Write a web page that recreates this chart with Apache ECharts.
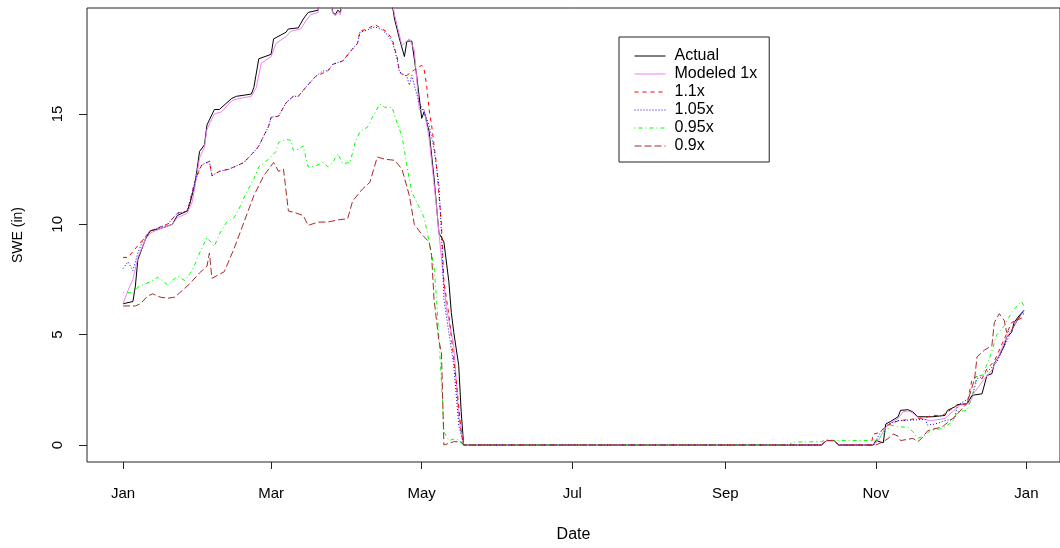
<!DOCTYPE html>
<html lang="en">
<head>
    <meta charset="UTF-8">
    <title>SWE</title>
    <script type="text/javascript" src="https://cdn.jsdelivr.net/npm/echarts@6/dist/echarts.min.js"></script>
    <style>
        body { margin: 0; background: #fff; }
    </style>
</head>
<body>
<div id="main" style="width: 1060px;height:548px;"></div>
<script type="text/javascript">
    // x = day of year (0 = Jan 1, leap year), y = SWE in inches
    var tickDays = [0, 60, 121, 182, 244, 305, 366];
    var tickLabels = ['Jan', 'Mar', 'May', 'Jul', 'Sep', 'Nov', 'Jan'];
    var yTicks = [0, 5, 10, 15];

    var actual = [[0,6.4],[4,6.5],[5,7.2],[6,8.4],[9,9.3],[11,9.7],[15,9.8],[20,10.0],[22,10.4],[26,10.6],[27,10.9],[29,11.75],[30,12.5],[31,13.3],[33,13.6],[34,14.5],[37,15.2],[39,15.2],[44,15.7],[46,15.8],[52,15.9],[53,16.2],[55,17.5],[60,17.7],[61,18.4],[66,18.7],[67,18.85],[71,18.9],[73,19.3],[75,19.6],[79,19.7],[80,20.2],[84,20.1],[85,19.6],[86,19.5],[87,19.7],[88,19.6],[89,20.1],[95,20.4],[100,20.6],[105,20.4],[109,20.0],[110,19.3],[112,18.4],[114,17.6],[115,18.3],[117,18.3],[119,16.7],[121,14.8],[122,15.1],[124,14.2],[126,12.1],[128,9.6],[130,9.2],[132,7.4],[133,6.0],[134,5.1],[136,3.6],[137,1.5],[138,0],
        [283,0],[285,0.2],[288,0.2],[290,0],[304,0],[305,0.2],[308,0.1],[309,0.95],[311,1.07],[314,1.28],[315,1.57],[318,1.6],[320,1.5],[322,1.28],[328,1.28],[333,1.34],[334,1.57],[337,1.73],[338,1.83],[342,1.87],[344,2.25],[348,2.32],[350,3.15],[352,3.23],[353,3.7],[355,4.05],[357,4.5],[358,4.9],[360,5.1],[361,5.55],[363,5.85],[365,6.1]];

    var modeled = [[0,6.4],[2,7.0],[4,7.5],[6,8.5],[9,9.3],[11,9.6],[15,9.8],[20,10.0],[22,10.3],[26,10.5],[28,11.0],[29,11.6],[30,12.3],[31,13.0],[33,13.5],[34,14.3],[37,15.0],[40,15.1],[44,15.6],[47,15.7],[52,15.8],[54,16.2],[56,17.3],[60,17.6],[62,18.2],[66,18.5],[68,18.75],[72,18.85],[74,19.2],[76,19.5],[79,19.6],[80,20.1],[84,20.0],[85,19.55],[86,19.45],[87,19.6],[88,19.5],[89,20.0],[100,20.5],[109,20.1],[110,19.5],[113,18.1],[116,18.4],[118,17.9],[120,15.2],[122,15.2],[124,13.9],[127,10.8],[128,9.6],[131,6.2],[134,4.5],[136,1.3],[138,0],
        [283,0],[285,0.2],[288,0.2],[290,0],[304,0],[306,0.2],[309,0.8],[311,1.0],[314,1.2],[316,1.5],[318,1.55],[320,1.45],[322,1.25],[327,1.1],[333,1.2],[336,1.5],[339,1.8],[343,1.9],[345,2.4],[349,3.0],[352,3.4],[355,4.1],[358,4.9],[360,5.2],[363,5.8],[365,6.0]];

    var x110 = [[0,8.5],[2,8.5],[8,9.3],[11,9.7],[18,10.0],[22,10.5],[26,10.6],[27,11.0],[29,11.9],[31,12.5],[32,12.7],[35,12.85],[36,12.2],[39,12.4],[43,12.5],[49,12.8],[54,13.4],[55,13.55],[59,14.45],[60,14.85],[63,14.9],[66,15.5],[69,15.8],[71,15.8],[74,16.2],[78,16.7],[81,16.85],[83,16.95],[85,17.25],[89,17.4],[93,17.95],[95,18.2],[96,18.75],[99,18.85],[102,19.05],[105,18.85],[107,18.7],[109,18.4],[111,17.6],[112,16.9],[114,16.7],[115,16.75],[118,17.0],[121,17.2],[122,17.0],[123,16.3],[124,15.2],[125,14.5],[127,12.7],[129,10.0],[130,7.4],[132,5.9],[135,2.9],[137,0.6],[138,0],
        [283,0],[285,0.2],[288,0.2],[290,0],[303,0],[304,0.5],[306,0.55],[310,0.9],[314,1.1],[319,1.16],[325,1.24],[328,1.34],[332,1.34],[334,1.5],[338,1.8],[342,1.87],[344,3.0],[346,3.1],[348,3.0],[350,3.45],[353,3.8],[357,4.8],[360,5.55],[363,5.7],[365,5.8]];

    var x105 = [[0,8.0],[2,8.3],[4,7.9],[6,8.7],[8,9.25],[11,9.7],[18,10.0],[22,10.5],[26,10.6],[27,11.0],[29,11.9],[31,12.5],[32,12.7],[35,12.85],[36,12.2],[39,12.4],[43,12.5],[49,12.8],[54,13.4],[55,13.55],[59,14.45],[60,14.85],[63,14.9],[66,15.5],[69,15.8],[71,15.8],[74,16.2],[78,16.7],[81,16.95],[83,16.95],[85,17.25],[89,17.4],[93,17.95],[95,18.2],[96,18.7],[99,18.8],[102,18.95],[105,18.8],[107,18.6],[109,18.3],[111,17.5],[112,16.9],[115,16.7],[116,16.3],[117,16.75],[118,16.3],[120,15.5],[122,15.1],[124,14.5],[126,13.4],[128,11.75],[129,9.6],[130,6.6],[134,3.6],[136,0.9],[138,0],
        [283,0],[285,0.2],[288,0.2],[290,0],[304,0],[305,0.2],[307,0.6],[310,0.95],[314,1.1],[325,1.16],[326,0.9],[329,0.95],[333,1.1],[337,1.2],[338,1.8],[344,2.2],[346,3.0],[348,3.1],[354,3.75],[358,4.7],[361,5.4],[364,5.95],[365,6.1]];

    var x095 = [[0,6.9],[4,6.9],[6,7.15],[11,7.4],[14,7.6],[16,7.45],[18,7.25],[22,7.65],[25,7.45],[28,7.9],[31,8.7],[34,9.4],[37,9.0],[39,9.55],[42,10.1],[45,10.3],[47,10.7],[50,11.45],[53,12.05],[55,12.6],[59,12.95],[62,13.3],[63,13.7],[66,13.85],[68,13.8],[69,13.35],[71,13.4],[73,13.55],[75,12.6],[78,12.65],[81,12.8],[83,12.6],[85,12.8],[87,13.2],[89,12.75],[92,12.8],[94,13.7],[96,14.2],[99,14.4],[101,14.85],[104,15.45],[106,15.3],[109,15.3],[111,14.6],[113,14.0],[115,12.65],[117,11.45],[119,11.0],[122,10.3],[124,9.2],[126,8.1],[127,6.6],[128,4.8],[129,2.85],[130,0.6],[132,0.2],[135,0.3],[138,0],
        [270,0],[271,0.13],[283,0.15],[285,0.25],[288,0.2],[303,0.2],[305,0.2],[309,0.6],[311,0.9],[314,0.83],[318,0.8],[320,0.6],[322,0.3],[325,0.45],[327,0.65],[332,0.75],[336,1.05],[338,1.5],[342,1.57],[344,2.2],[346,3.15],[348,3.15],[351,3.9],[354,5.0],[357,5.4],[360,6.0],[361,6.15],[364,6.5],[365,6.3]];

    var x090 = [[0,6.3],[5,6.3],[7,6.4],[10,6.75],[12,6.85],[15,6.7],[18,6.65],[21,6.7],[23,6.9],[27,7.3],[31,7.8],[34,8.1],[35,8.7],[36,7.55],[41,7.85],[45,8.9],[49,10.1],[53,11.3],[57,12.2],[61,12.8],[63,12.4],[65,12.5],[67,10.6],[69,10.55],[73,10.4],[75,9.95],[79,10.1],[83,10.1],[87,10.2],[91,10.25],[93,11.05],[97,11.6],[100,11.9],[103,13.05],[106,12.95],[110,12.9],[113,12.5],[116,11.3],[118,10.0],[121,9.55],[124,9.2],[125,8.6],[126,6.6],[128,4.7],[129,4.2],[130,0],[134,0.15],[137,0.15],[138,0],
        [283,0],[285,0.2],[288,0.2],[290,0],[305,0],[308,0.15],[310,0.3],[312,0.5],[314,0.4],[315,0.2],[320,0.3],[322,0.15],[324,0.35],[326,0.65],[332,0.83],[337,1.28],[342,1.9],[345,3.0],[346,4.0],[349,4.3],[352,4.5],[353,5.55],[355,5.95],[357,5.65],[358,5.1],[360,5.2],[363,5.8],[365,5.95]];

    function withZeros(arr) {
        // the data sits at 0 between the melt-out and the Oct snow
        var out = [];
        arr.forEach(function (p) {
            out.push(p);
            if (p[0] === 138) out.push([200, 0]);
        });
        return out;
    }

    function line(name, data, color, dash) {
        return {
            name: name,
            type: 'line',
            data: withZeros(data),
            symbol: 'none',
            clip: true,
            lineStyle: { color: color, width: 1, type: dash },
            itemStyle: { color: color }
        };
    }

    var option = {
        animation: false,
        textStyle: { fontFamily: 'Liberation Sans, Arial, sans-serif', color: '#000' },
        grid: {
            left: 87,
            top: 8,
            right: -10,
            bottom: 84,
            show: true,
            borderColor: '#222',
            borderWidth: 1
        },
        legend: {
            orient: 'vertical',
            left: 619,
            top: 37,
            padding: [10, 12, 7, 15],
            itemWidth: 31,
            itemHeight: 14,
            itemGap: 0,
            borderColor: '#222',
            borderWidth: 1,
            backgroundColor: '#fff',
            itemStyle: { opacity: 0 },
            lineStyle: { width: 1 },
            textStyle: { fontSize: 16, lineHeight: 18, color: '#000', padding: [0, 0, 0, 4] },
            data: ['Actual', 'Modeled 1x', '1.1x', '1.05x', '0.95x', '0.9x']
        },
        xAxis: {
            type: 'value',
            min: -14.6,
            max: 379.6,
            name: 'Date',
            nameLocation: 'middle',
            nameGap: 65,
            nameTextStyle: { fontSize: 16, color: '#000' },
            axisLine: { show: false, onZero: false },
            splitLine: { show: false },
            axisTick: { customValues: tickDays, length: 7, lineStyle: { color: '#222' } },
            axisLabel: {
                customValues: tickDays,
                fontSize: 15,
                color: '#000',
                margin: 24,
                formatter: function (v) {
                    return tickLabels[tickDays.indexOf(v)];
                }
            }
        },
        yAxis: {
            type: 'value',
            min: -0.77,
            max: 19.8,
            name: 'SWE (in)',
            nameLocation: 'middle',
            nameGap: 62,
            nameTextStyle: { fontSize: 14, color: '#000' },
            axisLine: { show: false, onZero: false },
            splitLine: { show: false },
            axisTick: { customValues: yTicks, length: 8, lineStyle: { color: '#222' } },
            axisLabel: {
                customValues: yTicks,
                fontSize: 15,
                color: '#000',
                rotate: 90,
                margin: 22
            }
        },
        series: [
            line('Actual', actual, '#000000', 'solid'),
            line('Modeled 1x', modeled, '#ee82ee', 'solid'),
            line('1.1x', x110, '#ff0000', [4, 4]),
            line('1.05x', x105, '#0000ff', [1, 2]),
            line('0.95x', x095, '#00ff00', [1, 3, 4, 3]),
            line('0.9x', x090, '#a52a2a', [7, 3])
        ]
    };

    var myChart = echarts.init(document.getElementById('main'));
    myChart.setOption(option);
</script>
</body>
</html>
